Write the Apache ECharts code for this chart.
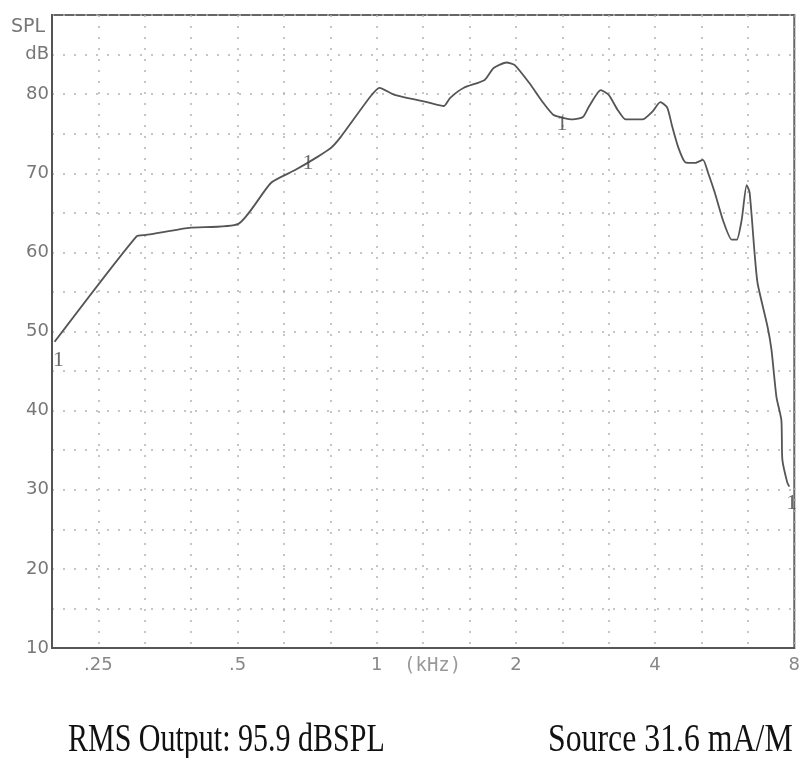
<!DOCTYPE html>
<html>
<head>
<meta charset="utf-8">
<script src="https://cdn.jsdelivr.net/npm/echarts@6/dist/echarts.min.js"></script>
<style>
  html, body { margin: 0; padding: 0; background: #fff; }
  #main { width: 803px; height: 758px; }
</style>
</head>
<body>
<div id="main"></div>
<script>
// frequency response
var freqKHz = [0.201, 0.302, 0.317, 0.393, 0.502, 0.591, 0.666, 0.746, 0.796, 0.836,
  0.969, 1.014, 1.092, 1.285, 1.398, 1.440, 1.543, 1.712, 1.790, 1.909, 1.986,
  2.138, 2.291, 2.408, 2.530, 2.658, 2.792, 2.876, 3.052, 3.175, 3.320, 3.453,
  3.755, 3.947, 4.105, 4.249, 4.356, 4.487, 4.646, 4.880, 5.077, 5.205, 5.388,
  5.606, 5.860, 6.007, 6.156, 6.311, 6.404, 6.565, 6.664, 7.003, 7.141, 7.321,
  7.502, 7.539, 7.727, 7.806];
var splDb = [48.7, 62.0, 62.2, 63.1, 63.6, 68.8, 70.4, 72.1, 73.2, 74.6,
  79.7, 80.8, 79.9, 79.0, 78.5, 79.5, 80.8, 81.8, 83.3, 84.0, 83.7,
  81.4, 78.9, 77.4, 77.0, 76.8, 77.1, 78.4, 80.5, 79.9, 78.0, 76.8,
  76.8, 77.8, 79.0, 78.3, 75.9, 73.3, 71.4, 71.3, 71.7, 70.1, 67.5,
  64.1, 61.6, 61.6, 64.1, 68.5, 67.6, 59.9, 56.1, 50.6, 47.7, 41.7,
  38.8, 33.8, 30.9, 30.4];

// curve markers "1"
var markFreq = [0.205, 0.710, 2.517, 7.90];
var markDb = [46.4, 71.3, 76.2, 28.3];

var xTickLabels = {'-6': '.25', '-3': '.5', '0': '1', '3': '2', '6': '4', '9': '8'};

// x is plotted in third-octaves: 3*log2(f)
function toX(f) { return 3 * Math.log2(f); }

var curve = freqKHz.map(function (f, i) { return [toX(f), splDb[i]]; });
var marks = markFreq.map(function (f, i) { return [toX(f), markDb[i]]; });

var myChart = echarts.init(document.getElementById('main'));

var gridDots = {show: true, lineStyle: {color: '#b4b4b4', type: [2, 9], width: 1.5}};

var option = {
  backgroundColor: '#fff',
  animation: false,
  grid: {
    left: 52, right: 3, top: 15, bottom: 110,
    show: true,
    borderColor: '#666',
    borderWidth: 2
  },
  xAxis: {
    type: 'value',
    min: -7, max: 9, interval: 1,
    axisLine: {show: true, onZero: false, lineStyle: {color: '#555', width: 2}},
    axisTick: {show: false},
    splitLine: gridDots,
    axisLabel: {
      color: '#888',
      fontFamily: 'DejaVu Sans',
      fontSize: 18,
      margin: 8,
      formatter: function (v) {
        var k = String(Math.round(v));
        return xTickLabels[k] || '';
      }
    }
  },
  yAxis: {
    type: 'value',
    min: 10, max: 90, interval: 5,
    axisLine: {show: true, onZero: false, lineStyle: {color: '#555', width: 2}},
    axisTick: {show: false},
    splitLine: gridDots,
    axisLabel: {
      color: '#777',
      fontFamily: 'DejaVu Sans',
      fontSize: 18,
      margin: 3,
      formatter: function (v) {
        if (v === 85) return 'dB';
        if (v % 10 === 0 && v <= 80) return String(v);
        return '';
      }
    }
  },
  graphic: [
    {type: 'text', left: 11, top: 18,
      style: {text: 'SPL', fill: '#777', font: '19px "DejaVu Sans"'}},
    {type: 'text', left: 404, top: 657,
      style: {text: '(kHz)', fill: '#999', font: '19px "DejaVu Sans Mono"'}},
    {type: 'text', left: 68, top: 721, scaleY: 1.3,
      style: {text: 'RMS Output: 95.9 dBSPL', fill: '#111', font: '30px "Liberation Serif"'}},
    {type: 'text', left: 548, top: 721, scaleY: 1.3, scaleX: 1.06,
      style: {text: 'Source 31.6 mA/M', fill: '#111', font: '30px "Liberation Serif"'}}
  ],
  series: [
    {
      type: 'line',
      data: curve,
      symbol: 'none',
      smooth: 0.2,
      lineStyle: {color: '#555', width: 1.8},
      z: 3
    },
    {
      type: 'scatter',
      data: marks,
      symbolSize: 0,
      label: {
        show: true,
        position: 'inside',
        formatter: '1',
        color: '#444',
        fontFamily: 'Liberation Serif',
        fontSize: 22
      },
      z: 4
    }
  ]
};
myChart.setOption(option);
</script>
</body>
</html>
